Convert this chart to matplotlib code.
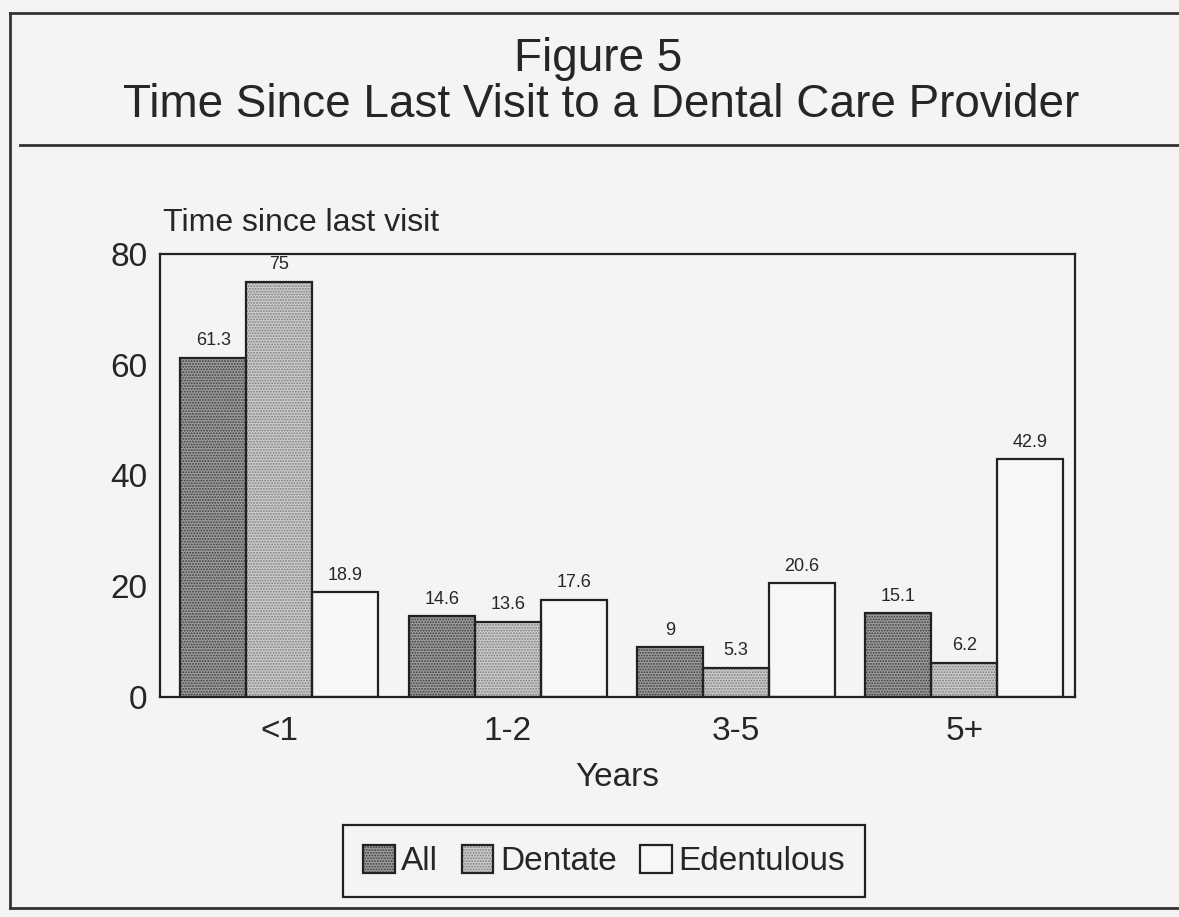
import numpy as np
import matplotlib
matplotlib.use("Agg")
import matplotlib.pyplot as plt
from matplotlib.lines import Line2D
from matplotlib.legend_handler import HandlerTuple

# Data
categories = ["<1", "1-2", "3-5", "5+"]
series_names = ["All", "Dentate", "Edentulous"]
all_vals = [61.3, 14.6, 9, 15.1]
dentate_vals = [75, 13.6, 5.3, 6.2]
edentulous_vals = [18.9, 17.6, 20.6, 42.9]
value_labels = [
    ["61.3", "14.6", "9", "15.1"],
    ["75", "13.6", "5.3", "6.2"],
    ["18.9", "17.6", "20.6", "42.9"],
]
yticks = [0, 20, 40, 60, 80]

plt.rcParams["font.family"] = ["Liberation Sans", "DejaVu Sans"]
plt.rcParams["hatch.linewidth"] = 0.9

BG = "#f4f4f3"
INK = "#262626"

W, H = 1179, 917
fig = plt.figure(figsize=(W / 100, H / 100), dpi=100, facecolor=BG)


def fx(px):
    return px / W


def fy(py):
    return 1 - py / H


# Page frame and title rule
frame_kw = dict(color="#333333", lw=2.0, transform=fig.transFigure)
fig.add_artist(Line2D([fx(10), fx(1190)], [fy(13), fy(13)], **frame_kw))
fig.add_artist(Line2D([fx(10), fx(10)], [fy(13), fy(908)], **frame_kw))
fig.add_artist(Line2D([fx(10), fx(1190)], [fy(908), fy(908)], **frame_kw))
fig.add_artist(Line2D([fx(20), fx(1190)], [fy(145), fy(145)], **frame_kw))

fig.text(fx(598), fy(59), "Figure 5", ha="center", va="center",
         fontsize=33, color=INK)
fig.text(fx(601), fy(105), "Time Since Last Visit to a Dental Care Provider",
         ha="center", va="center", fontsize=33, color=INK)

ax = fig.add_axes([fx(160), fy(697), fx(1075) - fx(160), fy(254) - fy(697)])
ax.set_facecolor(BG)

x = np.arange(len(categories))
width = 0.289
series = [all_vals, dentate_vals, edentulous_vals]
faces = ["#9c9c9c", "#cbcbcb", "#f7f7f7"]
hatch_cols = ["#3c3c3c", "#7c7c7c", "#f7f7f7"]
hatches = ["......", "......", None]

handles = []
for i, vals in enumerate(series):
    pos = x + (i - 1) * width
    fill = ax.bar(pos, vals, width, color=faces[i], edgecolor=hatch_cols[i],
                  linewidth=0, hatch=hatches[i], zorder=2)
    edge = ax.bar(pos, vals, width, fill=False, edgecolor="#222222",
                  linewidth=1.6, zorder=3)
    for p, v, lab in zip(pos, vals, value_labels[i]):
        ax.annotate(lab, (p, v), xytext=(0, 6), textcoords="offset points",
                    ha="center", va="bottom", fontsize=13, color=INK)
    handles.append((fill[0], edge[0]))

ax.set_xlim(-0.523, 3.484)
ax.set_ylim(0, 80)
ax.set_yticks(yticks)
ax.set_yticklabels([str(t) for t in yticks])
ax.set_xticks(x)
ax.set_xticklabels(categories)
ax.tick_params(axis="both", length=0, labelsize=24, colors=INK)
ax.tick_params(axis="y", pad=9)
ax.tick_params(axis="x", pad=14)
for s in ax.spines.values():
    s.set_color("#222222")
    s.set_linewidth(1.6)

fig.text(fx(163), fy(223), "Time since last visit", ha="left", va="center",
         fontsize=23, color=INK)
fig.text(fx(617), fy(777), "Years", ha="center", va="center",
         fontsize=24, color=INK)

leg = fig.legend(handles, series_names, loc="center",
                 bbox_to_anchor=(fx(604), fy(861)), ncol=3, fontsize=24,
                 frameon=True, fancybox=False, facecolor=BG,
                 edgecolor="#222222", framealpha=1,
                 handlelength=0.95, handleheight=0.95, handletextpad=0.2,
                 columnspacing=0.7, borderpad=0.6,
                 handler_map={tuple: HandlerTuple(ndivide=1, pad=0)})
leg.get_frame().set_linewidth(1.6)
for t in leg.get_texts():
    t.set_color(INK)

fig.savefig("out.png", dpi=100, facecolor=BG)
